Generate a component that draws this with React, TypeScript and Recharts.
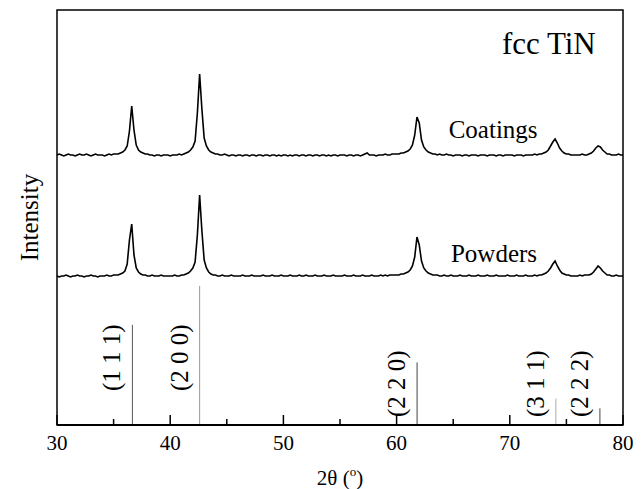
import {
  LineChart,
  Line,
  XAxis,
  YAxis,
  ReferenceLine,
  ReferenceArea,
  ReferenceDot,
} from "recharts";

const FONT = '"Liberation Serif", "Times New Roman", Times, serif';

// 2θ sampling: 30° to 80° in 0.2° steps (251 points)
const THETA_START = 30;
const THETA_STEP = 0.2;

// measured intensity, a.u., one row = 2°
const coatingsRaw = [
  20, 21, 20, 19, 20, 21, 20, 20, 19, 20,
  21, 20, 20, 21, 20, 19, 20, 21, 20, 20,
  20, 19, 20, 21, 20, 21, 21, 21, 22, 23,
  25, 29, 44, 69, 45, 30, 25, 23, 22, 21,
  21, 20, 20, 19, 20, 20, 19, 20, 20, 20,
  19, 20, 20, 20, 21, 20, 21, 22, 23, 25,
  28, 34, 62, 101, 66, 37, 29, 25, 23, 22,
  21, 21, 20, 20, 21, 20, 19, 20, 20, 19,
  20, 20, 19, 20, 20, 19, 20, 20, 19, 20,
  20, 19, 20, 20, 19, 20, 20, 19, 20, 19,
  20, 20, 19, 20, 19, 20, 20, 19, 20, 20,
  19, 20, 20, 19, 20, 20, 19, 20, 20, 19,
  20, 19, 20, 20, 19, 20, 20, 20, 19, 20,
  20, 19, 20, 20, 19, 20, 21, 22, 20, 20,
  20, 19, 20, 20, 20, 21, 20, 20, 21, 21,
  21, 21, 22, 22, 23, 24, 26, 30, 40, 58,
  52, 35, 28, 25, 23, 22, 21, 21, 20, 21,
  20, 20, 21, 20, 20, 19, 20, 20, 20, 19,
  20, 20, 19, 20, 20, 20, 19, 20, 20, 20,
  19, 20, 20, 20, 19, 20, 20, 19, 20, 20,
  20, 20, 19, 20, 20, 20, 19, 20, 20, 20,
  20, 21, 20, 21, 21, 22, 23, 25, 29, 33,
  36, 32, 27, 24, 22, 21, 21, 20, 20, 20,
  20, 20, 21, 20, 20, 21, 22, 24, 27, 29,
  28, 25, 23, 21, 21, 20, 20, 20, 21, 20,
  20,
];

const powdersRaw = [
  19, 18, 19, 19, 20, 19, 18, 19, 19, 20,
  19, 19, 18, 19, 19, 20, 19, 19, 18, 19,
  19, 19, 20, 19, 19, 20, 20, 20, 21, 22,
  24, 31, 55, 71, 40, 27, 23, 21, 20, 20,
  19, 19, 20, 19, 19, 19, 20, 19, 19, 19,
  19, 19, 20, 19, 19, 20, 20, 21, 22, 24,
  27, 33, 60, 100, 64, 35, 27, 23, 21, 20,
  20, 19, 19, 20, 19, 19, 19, 20, 19, 19,
  19, 19, 20, 19, 19, 19, 20, 19, 19, 19,
  19, 20, 19, 19, 19, 20, 19, 19, 19, 20,
  19, 19, 19, 20, 19, 19, 19, 20, 19, 19,
  20, 19, 19, 19, 20, 19, 19, 19, 20, 19,
  19, 19, 20, 19, 19, 19, 19, 20, 19, 19,
  19, 20, 19, 19, 19, 20, 19, 19, 19, 20,
  19, 19, 19, 20, 19, 20, 19, 20, 20, 20,
  20, 20, 21, 21, 22, 23, 25, 29, 38, 58,
  50, 34, 27, 24, 22, 21, 20, 20, 20, 19,
  19, 20, 19, 19, 20, 19, 19, 19, 20, 19,
  19, 19, 20, 19, 19, 19, 20, 19, 19, 19,
  20, 19, 19, 19, 20, 19, 19, 19, 19, 20,
  19, 19, 19, 20, 19, 19, 19, 20, 19, 19,
  19, 20, 19, 20, 20, 21, 22, 24, 27, 31,
  34, 29, 25, 22, 21, 20, 20, 19, 19, 19,
  19, 20, 19, 20, 20, 20, 21, 23, 26, 29,
  27, 24, 22, 20, 20, 19, 19, 20, 19, 19,
  19,
];

// vertical offsets of the stacked patterns
const COATINGS_OFFSET = 250;
const POWDERS_OFFSET = 130;

// standard fcc TiN reflections
const hklNames = ["(1 1 1)", "(2 0 0)", "(2 2 0)", "(3 1 1)", "(2 2 2)"];
const hklTheta = [36.66, 42.6, 61.81, 74.07, 77.96];
const hklIntensity = [72, 100, 45, 19, 12];
const STICK_SCALE = 1.39;
// how far above the axis each label starts (px) and stick shade
const hklLabelLift = [34, 34, 8, 8, 8];
const hklStroke = ["#555", "#999", "#444", "#aaa", "#444"];

const xTicks = [30, 35, 40, 45, 50, 55, 60, 65, 70, 75, 80];

const data = coatingsRaw.map((v, i) => ({
  theta: +(THETA_START + THETA_STEP * i).toFixed(1),
  coatings: v + COATINGS_OFFSET,
  powders: powdersRaw[i] + POWDERS_OFFSET,
}));

function AxisTick(props: any) {
  const { x, y, payload } = props;
  const major = payload.value % 10 === 0;
  return (
    <g>
      <line x1={x} x2={x} y1={y} y2={y - (major ? 10 : 6)} stroke="#000" strokeWidth={1.5} />
      {major && (
        <text x={x} y={y + 25} textAnchor="middle" fontSize={21} fontFamily={FONT} fill="#000">
          {payload.value}
        </text>
      )}
    </g>
  );
}

const textLabel = (text: string, size: number) => (props: any) => {
  const { viewBox } = props;
  return (
    <text x={viewBox.x} y={viewBox.y} fontSize={size} fontFamily={FONT} fill="#000" textAnchor="start">
      {text}
    </text>
  );
};

const hklLabel = (text: string, lift: number) => (props: any) => {
  const { viewBox } = props;
  const x = viewBox.x - 12;
  const y = viewBox.y + viewBox.height - lift;
  return (
    <text
      x={x}
      y={y}
      transform={`rotate(-90 ${x} ${y})`}
      fontSize={25}
      fontFamily={FONT}
      fill="#000"
      textAnchor="start"
    >
      {text}
    </text>
  );
};

export default function App() {
  return (
    <div style={{ position: "absolute", left: 0, top: 0, width: 643, height: 489, background: "#fff" }}>
      <LineChart width={643} height={489} data={data} margin={{ top: 10, right: 20, left: 0, bottom: 0 }}>
        <XAxis
          dataKey="theta"
          type="number"
          domain={[30, 80]}
          ticks={xTicks}
          interval={0}
          tickSize={0}
          tickMargin={0}
          tickLine={false}
          tick={<AxisTick />}
          height={64}
          axisLine={{ stroke: "#000", strokeWidth: 2 }}
          label={(props: any) => {
            const vb = props.viewBox;
            return (
              <text x={vb.x + vb.width / 2} y={vb.y + 60} textAnchor="middle" fontSize={21} fontFamily={FONT} fill="#000">
                2θ (<tspan dy={-9} fontSize={13}>o</tspan>
                <tspan dy={9}>)</tspan>
              </text>
            );
          }}
        />
        <YAxis
          type="number"
          domain={[0, 415]}
          width={57}
          tick={false}
          tickLine={false}
          axisLine={false}
          label={(props: any) => {
            const vb = props.viewBox;
            const x = vb.x + 38;
            const y = vb.y + vb.height / 2;
            return (
              <text x={x} y={y} transform={`rotate(-90 ${x} ${y})`} textAnchor="middle" fontSize={25} fontFamily={FONT} fill="#000">
                Intensity
              </text>
            );
          }}
        />
        <ReferenceArea x1={30} x2={80} y1={0} y2={415} fill="none" stroke="#000" strokeWidth={1.5} />
        {hklNames.map((name, i) => (
          <ReferenceLine
            key={name}
            segment={[
              { x: hklTheta[i], y: 0 },
              { x: hklTheta[i], y: hklIntensity[i] * STICK_SCALE },
            ]}
            stroke={hklStroke[i]}
            strokeWidth={1}
            label={hklLabel(name, hklLabelLift[i])}
          />
        ))}
        <Line type="linear" dataKey="coatings" stroke="#000" strokeWidth={1.6} dot={false} isAnimationActive={false} />
        <Line type="linear" dataKey="powders" stroke="#000" strokeWidth={1.6} dot={false} isAnimationActive={false} />
        <ReferenceDot x={64.6} y={287} r={0} fill="none" stroke="none" label={textLabel("Coatings", 25)} />
        <ReferenceDot x={64.8} y={163} r={0} fill="none" stroke="none" label={textLabel("Powders", 25)} />
        <ReferenceDot x={69.3} y={371} r={0} fill="none" stroke="none" label={textLabel("fcc TiN", 31)} />
      </LineChart>
    </div>
  );
}
